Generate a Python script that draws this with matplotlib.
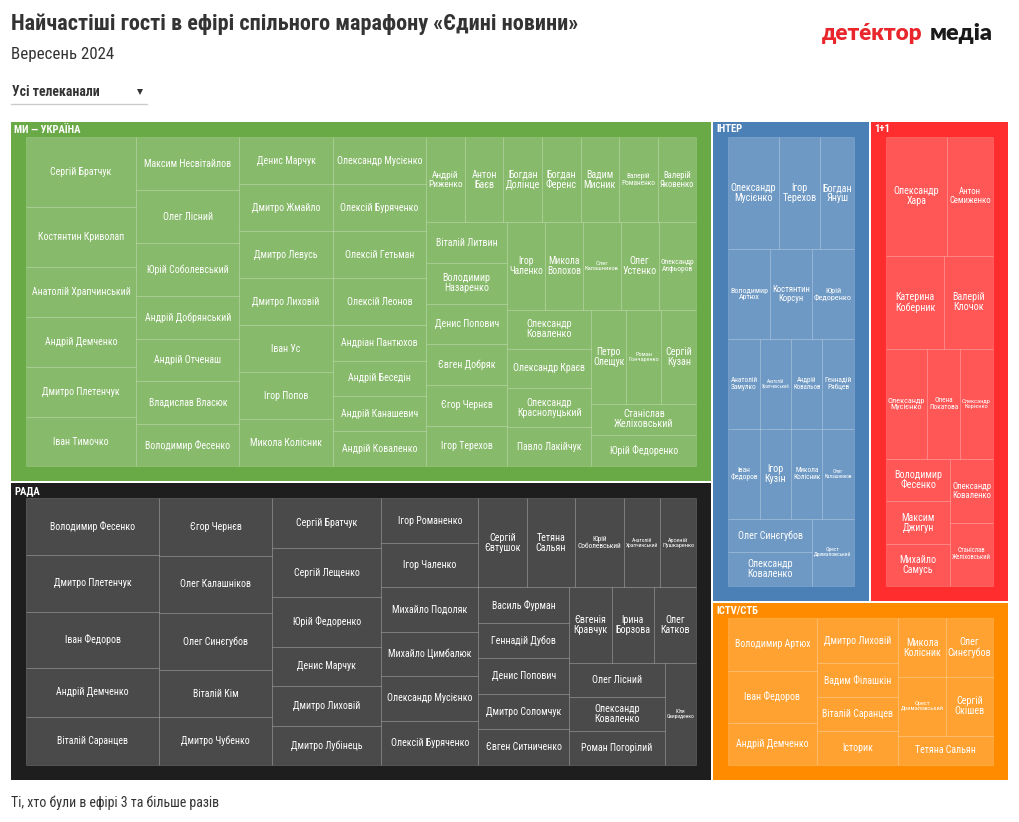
import matplotlib
matplotlib.use('Agg')
import matplotlib.pyplot as plt
from matplotlib.patches import Rectangle
from matplotlib import font_manager as fm

# guests with 3+ appearances, per channel
mi_names = ['Сергій Братчук', 'Костянтин Криволап', 'Анатолій Храпчинський', 'Андрій Демченко',
            'Дмитро Плетенчук', 'Іван Тимочко', 'Максим Несвітайлов', 'Олег Лісний', 'Юрій Соболевський',
            'Андрій Добрянський', 'Андрій Отченаш', 'Владислав Власюк', 'Володимир Фесенко', 'Денис Марчук',
            'Дмитро Жмайло', 'Дмитро Левусь', 'Дмитро Лиховій', 'Іван Ус', 'Ігор Попов', 'Микола Колісник',
            'Олександр Мусієнко', 'Олексій Буряченко', 'Олексій Гетьман', 'Олексій Леонов',
            'Андріан Пантюхов', 'Андрій Беседін', 'Андрій Канашевич', 'Андрій Коваленко', 'Андрій Риженко',
            'Антон Баєв', 'Богдан Долінце', 'Богдан Ференс', 'Вадим Мисник', 'Валерій Романенко',
            'Валерій Яковенко', 'Віталій Литвин', 'Володимир Назаренко', 'Денис Попович', 'Євген Добряк',
            'Єгор Чернєв', 'Ігор Терехов', 'Ігор Чаленко', 'Микола Волохов', 'Олег Калашников', 'Олег Устенко',
            'Олександр Алфьоров', 'Олександр Коваленко', 'Олександр Краєв', 'Олександр Краснолуцький',
            'Павло Лакійчук', 'Петро Олещук', 'Роман Гончаренко', 'Сергій Кузан', 'Станіслав Желіховський',
            'Юрій Федоренко']
mi_counts = [7, 6, 5, 5,
             5, 5, 5, 5, 5,
             4, 4, 4, 4, 4,
             4, 4, 4, 4, 4, 4,
             4, 4, 4, 4,
             3, 3, 3, 3, 3,
             3, 3, 3, 3, 3,
             3, 3, 3, 3, 3,
             3, 3, 3, 3, 3, 3,
             3, 3, 3, 3,
             3, 3, 3, 3, 3,
             3]

rada_names = ['Володимир Фесенко', 'Дмитро Плетенчук', 'Іван Федоров', 'Андрій Демченко', 'Віталій Саранцев',
              'Єгор Чернєв', 'Олег Калашніков', 'Олег Синєгубов', 'Віталій Кім', 'Дмитро Чубенко',
              'Сергій Братчук', 'Сергій Лещенко', 'Юрій Федоренко', 'Денис Марчук', 'Дмитро Лиховій',
              'Дмитро Лубінець', 'Ігор Романенко', 'Ігор Чаленко', 'Михайло Подоляк', 'Михайло Цимбалюк',
              'Олександр Мусієнко', 'Олексій Буряченко', 'Сергій Євтушок', 'Тетяна Сальян', 'Юрій Соболевський',
              'Анатолій Храпчинський', 'Арсеній Пушкаренко', 'Василь Фурман', 'Геннадій Дубов', 'Денис Попович',
              'Дмитро Соломчук', 'Євген Ситниченко', 'Євгенія Кравчук', 'Ірина Борзова', 'Олег Катков',
              'Олег Лісний', 'Олександр Коваленко', 'Роман Погорілий', 'Юля Свириденко']
rada_counts = [7, 7, 7, 6, 6,
               6, 6, 6, 5, 5,
               5, 5, 5, 4, 4,
               4, 4, 4, 4, 4,
               4, 4, 4, 4, 4,
               3, 3, 3, 3, 3,
               3, 3, 3, 3, 3,
               3, 3, 3, 3]

inter_names = ['Олександр Мусієнко', 'Ігор Терехов', 'Богдан Януш', 'Володимир Артюх', 'Костянтин Корсун',
               'Юрій Федоренко', 'Анатолій Замулко', 'Анатолій Храпчинський', 'Андрій Ковальов',
               'Геннадій Рябцев', 'Іван Федоров', 'Ігор Кузін', 'Микола Колісник', 'Олег Калашников',
               'Олег Синєгубов', 'Олександр Коваленко', 'Орест Дрималовський']
inter_counts = [6, 5, 4, 4, 4,
                4, 3, 3, 3,
                3, 3, 3, 3, 3,
                3, 3, 3]

plus_names = ['Олександр Хара', 'Антон Семиженко', 'Катерина Коберник', 'Валерій Клочок', 'Олександр Мусієнко',
              'Олена Покатова', 'Олександр Корієнко', 'Володимир Фесенко', 'Максим Джигун', 'Михайло Самусь',
              'Олександр Коваленко', 'Станіслав Желіховський']
plus_counts = [8, 6, 6, 5, 5,
               4, 4, 3, 3, 3,
               3, 3]

ictv_names = ['Володимир Артюх', 'Іван Федоров', 'Андрій Демченко', 'Дмитро Лиховій', 'Вадим Філашкін',
              'Віталій Саранцев', 'Історик', 'Микола Колісник', 'Олег Синєгубов', 'Орест Дрималовський',
              'Сергій Окішев', 'Тетяна Сальян']
ictv_counts = [5, 5, 4, 4, 3,
               3, 3, 3, 3, 3,
               3, 3]

group_names = ['МИ — УКРАЇНА', 'РАДА', 'ІНТЕР', '1+1', 'ICTV/СТБ']
group_colors = ['#6aaa46', '#1e1e1e', '#4a80b6', '#ff2d2d', '#ff8c00']
groups = [(mi_names, mi_counts), (rada_names, rada_counts), (inter_names, inter_counts),
          (plus_names, plus_counts), (ictv_names, ictv_counts)]

W, H, DPI = 1020, 822, 100
RATIO = 2.0   # flourish squarify aspect
PAD = 15


def squarify(values, x0, y0, x1, y1, ratio=RATIO):
    # same as d3.treemapSquarify
    rects = []
    left = float(sum(values))
    i0, n = 0, len(values)
    while i0 < n:
        dx, dy = x1 - x0, y1 - y0
        i1 = i0 + 1
        s = mn = mx = values[i0]
        alpha = max(dy / dx, dx / dy) / (left * ratio)
        beta = s * s * alpha
        best = max(mx / beta, beta / mn)
        while i1 < n:
            v = values[i1]
            beta = (s + v) ** 2 * alpha
            r = max(max(mx, v) / beta, beta / min(mn, v))
            if r > best:
                break
            s += v
            mn, mx, best = min(mn, v), max(mx, v), r
            i1 += 1
        row = values[i0:i1]
        if dx < dy:
            yb = y0 + dy * s / left
            xx = x0
            for v in row:
                rects.append((xx, y0, xx + dx * v / s, yb))
                xx += dx * v / s
            y0 = yb
        else:
            xr = x0 + dx * s / left
            yy = y0
            for v in row:
                rects.append((x0, yy, xr, yy + dy * v / s))
                yy += dy * v / s
            x0 = xr
        left -= s
        i0 = i1
    return rects


def pick_font(*names):
    for name in names:
        try:
            fm.findfont(fm.FontProperties(family=name), fallback_to_default=False)
            return name
        except ValueError:
            pass
    return 'DejaVu Sans'


FONT = pick_font('Roboto Condensed', 'Liberation Sans Narrow', 'Roboto')
LOGO_FONT = pick_font('Lato', 'Roboto')

fig = plt.figure(figsize=(W / DPI, H / DPI), dpi=DPI)
ax = fig.add_axes([0, 0, 1, 1])
ax.set_xlim(0, W)
ax.set_ylim(H, 0)
ax.axis('off')
renderer = fig.canvas.get_renderer()


def text_w(s, size, weight='normal', family=FONT):
    t = ax.text(0, 0, s, fontsize=size, family=family, weight=weight)
    w = t.get_window_extent(renderer).width
    t.remove()
    return w


def fit(s, width, weight='normal', family=FONT):
    return 10 * width / text_w(s, 10, weight, family)


BASE = fit('Анатолій Храпчинський', 98)
MAXS = fit('Олександр', 45)
HEAD = fit('МИ — УКРАЇНА', 66, 'bold')


def label(name, x0, y0, x1, y1):
    h = y1 - y0 - 4
    px = 100 / 72
    if text_w(name, BASE) <= x1 - x0 - 7 and BASE * px * 1.2 <= h:
        txt, size = name, BASE
    else:
        parts = name.split(' ', 1)
        txt = '\n'.join(parts)
        per_pt = max(text_w(p, 10) for p in parts) / 10
        size = min(MAXS, (x1 - x0 - 4) / per_pt, h / (len(parts) * 1.15 * px))
    ax.text((x0 + x1) / 2, (y0 + y1) / 2, txt, ha='center', va='center', color='white',
            fontsize=size, family=FONT, linespacing=1.0)


totals = [sum(c) for _, c in groups]
group_rects = squarify(totals, 10, 121, 1009, 781)

for (names, counts), gname, color, (gx0, gy0, gx1, gy1) in zip(groups, group_names, group_colors, group_rects):
    gx0, gy0, gx1, gy1 = gx0 + 1, gy0 + 1, gx1 - 1, gy1 - 1
    ax.add_patch(Rectangle((gx0, gy0), gx1 - gx0, gy1 - gy0, facecolor=color, edgecolor='none'))
    ax.text(gx0 + 3, gy0 + 7.5, gname, color='white', fontsize=HEAD, weight='bold', family=FONT,
            ha='left', va='center')

    order = sorted(range(len(counts)), key=lambda i: -counts[i])
    gw, gh = gx1 - gx0, gy1 - gy0
    cells = squarify([counts[i] for i in order], 0, 0, gw, gh)
    ix0, iy0 = gx0 + PAD, gy0 + PAD
    sx, sy = (gw - 2 * PAD) / gw, (gh - 2 * PAD) / gh
    for i, (cx0, cy0, cx1, cy1) in zip(order, cells):
        x0, x1 = ix0 + cx0 * sx, ix0 + cx1 * sx
        y0, y1 = iy0 + cy0 * sy, iy0 + cy1 * sy
        ax.add_patch(Rectangle((x0, y0), x1 - x0, y1 - y0, facecolor=(1, 1, 1, 0.2),
                               edgecolor=(1, 1, 1, 0.18), linewidth=0.6))
        label(names[i], x0, y0, x1, y1)

# titles etc.
title = 'Найчастіші гості в ефірі спільного марафону «Єдині новини»'
ax.text(11, 24, title, fontsize=fit(title, 569, 'bold'), weight='bold', family=FONT,
        color='#333333', ha='left', va='center')
sub = 'Вересень 2024'
ax.text(11, 54, sub, fontsize=fit(sub, 102), family=FONT, color='#333333', ha='left', va='center')
drop = 'Усі телеканали'
ax.text(12, 92, drop, fontsize=fit(drop, 87, 'bold'), weight='bold', family=FONT,
        color='#333333', ha='left', va='center')
ax.plot([140], [92], marker='v', markersize=4.5, color='#333333', markeredgewidth=0)
ax.plot([11, 147], [104.5, 104.5], color='#cccccc', lw=1)
foot = 'Ті, хто були в ефірі 3 та більше разів'
ax.text(11, 803, foot, fontsize=fit(foot, 209), family=FONT, color='#333333', ha='left', va='center')

# logo
ax.text(822, 40, 'детéктор', fontsize=fit('детéктор', 101, 'heavy', LOGO_FONT), weight='heavy',
        family=LOGO_FONT, color='#e8262b', ha='left', va='baseline')
ax.text(993, 40, 'медіа', fontsize=fit('медіа', 63, 'heavy', LOGO_FONT), weight='heavy',
        family=LOGO_FONT, color='#1a1a1a', ha='right', va='baseline')

fig.savefig('out.png', dpi=DPI)
